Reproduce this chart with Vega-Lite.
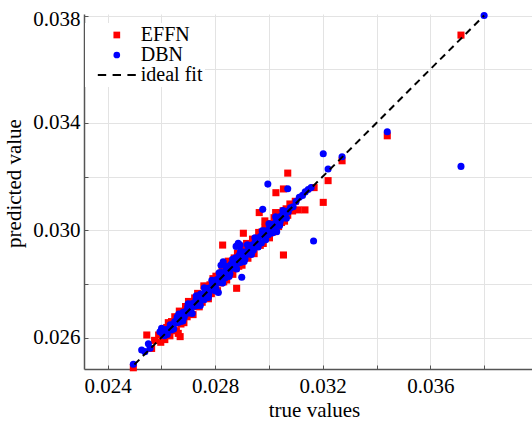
{
  "$schema": "https://vega.github.io/schema/vega-lite/v6.json",
  "width": 448,
  "height": 355,
  "autosize": {"type": "none"},
  "padding": {"left": 84, "top": 14, "right": 0, "bottom": 52},
  "background": "white",
  "config": {
    "view": {"stroke": null},
    "font": "Liberation Serif",
    "style": {"guide-label": {"font": "Liberation Serif", "fontSize": 21, "fill": "black"}, "guide-title": {"font": "Liberation Serif"}},
    "axis": {
      "labelFont": "Liberation Serif", "labelFontSize": 21, "labelColor": "black",
      "titleFont": "Liberation Serif", "titleFontSize": 21, "titleFontWeight": "normal", "titleColor": "black",
      "domainColor": "#555555", "domainWidth": 1.5,
      "tickColor": "#555555", "tickSize": -4, "tickWidth": 1,
      "gridColor": "#e3e3e3", "gridWidth": 1
    },
    "legend": {"labelFont": "Liberation Serif"}
  },
  "layer": [
    {
      "data": {"values": [
        {"model":"EFFN","truth":0.02496,"pred":0.02488},
        {"model":"EFFN","truth":0.02546,"pred":0.0261},
        {"model":"EFFN","truth":0.02564,"pred":0.0256},
        {"model":"EFFN","truth":0.02575,"pred":0.0259},
        {"model":"EFFN","truth":0.02663,"pred":0.02616},
        {"model":"EFFN","truth":0.0267,"pred":0.02604},
        {"model":"EFFN","truth":0.0259,"pred":0.0261},
        {"model":"EFFN","truth":0.02598,"pred":0.02583},
        {"model":"EFFN","truth":0.02606,"pred":0.02631},
        {"model":"EFFN","truth":0.02613,"pred":0.02593},
        {"model":"EFFN","truth":0.0262,"pred":0.02638},
        {"model":"EFFN","truth":0.02626,"pred":0.02656},
        {"model":"EFFN","truth":0.02632,"pred":0.02607},
        {"model":"EFFN","truth":0.02638,"pred":0.0266},
        {"model":"EFFN","truth":0.02644,"pred":0.02632},
        {"model":"EFFN","truth":0.0265,"pred":0.02678},
        {"model":"EFFN","truth":0.02656,"pred":0.02626},
        {"model":"EFFN","truth":0.02662,"pred":0.02677},
        {"model":"EFFN","truth":0.02667,"pred":0.02699},
        {"model":"EFFN","truth":0.02673,"pred":0.02651},
        {"model":"EFFN","truth":0.02679,"pred":0.02689},
        {"model":"EFFN","truth":0.02684,"pred":0.02656},
        {"model":"EFFN","truth":0.0269,"pred":0.02716},
        {"model":"EFFN","truth":0.02696,"pred":0.02678},
        {"model":"EFFN","truth":0.02701,"pred":0.02735},
        {"model":"EFFN","truth":0.02707,"pred":0.02697},
        {"model":"EFFN","truth":0.02713,"pred":0.02733},
        {"model":"EFFN","truth":0.02718,"pred":0.02686},
        {"model":"EFFN","truth":0.02724,"pred":0.02748},
        {"model":"EFFN","truth":0.0273,"pred":0.02716},
        {"model":"EFFN","truth":0.02735,"pred":0.02765},
        {"model":"EFFN","truth":0.02741,"pred":0.02715},
        {"model":"EFFN","truth":0.02747,"pred":0.02759},
        {"model":"EFFN","truth":0.02752,"pred":0.02732},
        {"model":"EFFN","truth":0.02758,"pred":0.02793},
        {"model":"EFFN","truth":0.02764,"pred":0.02756},
        {"model":"EFFN","truth":0.02769,"pred":0.02791},
        {"model":"EFFN","truth":0.02775,"pred":0.02745},
        {"model":"EFFN","truth":0.02781,"pred":0.02797},
        {"model":"EFFN","truth":0.02786,"pred":0.02764},
        {"model":"EFFN","truth":0.02792,"pred":0.0282},
        {"model":"EFFN","truth":0.02798,"pred":0.02786},
        {"model":"EFFN","truth":0.02803,"pred":0.02829},
        {"model":"EFFN","truth":0.02809,"pred":0.02775},
        {"model":"EFFN","truth":0.02815,"pred":0.02833},
        {"model":"EFFN","truth":0.0282,"pred":0.02804},
        {"model":"EFFN","truth":0.02826,"pred":0.02856},
        {"model":"EFFN","truth":0.02832,"pred":0.02808},
        {"model":"EFFN","truth":0.02837,"pred":0.02849},
        {"model":"EFFN","truth":0.02843,"pred":0.02815},
        {"model":"EFFN","truth":0.02849,"pred":0.02885},
        {"model":"EFFN","truth":0.02854,"pred":0.0284},
        {"model":"EFFN","truth":0.0286,"pred":0.0288},
        {"model":"EFFN","truth":0.02866,"pred":0.02836},
        {"model":"EFFN","truth":0.02871,"pred":0.02897},
        {"model":"EFFN","truth":0.02877,"pred":0.02859},
        {"model":"EFFN","truth":0.02883,"pred":0.02915},
        {"model":"EFFN","truth":0.02888,"pred":0.02866},
        {"model":"EFFN","truth":0.02894,"pred":0.02908},
        {"model":"EFFN","truth":0.029,"pred":0.0287},
        {"model":"EFFN","truth":0.02905,"pred":0.02929},
        {"model":"EFFN","truth":0.02911,"pred":0.02899},
        {"model":"EFFN","truth":0.02917,"pred":0.02951},
        {"model":"EFFN","truth":0.02922,"pred":0.02896},
        {"model":"EFFN","truth":0.02928,"pred":0.02946},
        {"model":"EFFN","truth":0.02934,"pred":0.02914},
        {"model":"EFFN","truth":0.02939,"pred":0.02967},
        {"model":"EFFN","truth":0.02945,"pred":0.02913},
        {"model":"EFFN","truth":0.02951,"pred":0.02967},
        {"model":"EFFN","truth":0.02956,"pred":0.02942},
        {"model":"EFFN","truth":0.02962,"pred":0.02992},
        {"model":"EFFN","truth":0.02968,"pred":0.02944},
        {"model":"EFFN","truth":0.02973,"pred":0.02993},
        {"model":"EFFN","truth":0.02979,"pred":0.02951},
        {"model":"EFFN","truth":0.02985,"pred":0.03011},
        {"model":"EFFN","truth":0.0299,"pred":0.02974},
        {"model":"EFFN","truth":0.02996,"pred":0.03018},
        {"model":"EFFN","truth":0.03002,"pred":0.02972},
        {"model":"EFFN","truth":0.03007,"pred":0.03025},
        {"model":"EFFN","truth":0.03013,"pred":0.02993},
        {"model":"EFFN","truth":0.03019,"pred":0.03047},
        {"model":"EFFN","truth":0.03024,"pred":0.02998},
        {"model":"EFFN","truth":0.0303,"pred":0.03044},
        {"model":"EFFN","truth":0.03036,"pred":0.03014},
        {"model":"EFFN","truth":0.03041,"pred":0.03065},
        {"model":"EFFN","truth":0.03047,"pred":0.03029},
        {"model":"EFFN","truth":0.03053,"pred":0.03073},
        {"model":"EFFN","truth":0.03058,"pred":0.03034},
        {"model":"EFFN","truth":0.03064,"pred":0.0308},
        {"model":"EFFN","truth":0.0307,"pred":0.03056},
        {"model":"EFFN","truth":0.03078,"pred":0.03098},
        {"model":"EFFN","truth":0.03088,"pred":0.03072},
        {"model":"EFFN","truth":0.03098,"pred":0.03108},
        {"model":"EFFN","truth":0.02828,"pred":0.02945},
        {"model":"EFFN","truth":0.0288,"pred":0.02784},
        {"model":"EFFN","truth":0.02905,"pred":0.02989},
        {"model":"EFFN","truth":0.03054,"pred":0.02908},
        {"model":"EFFN","truth":0.03054,"pred":0.03154},
        {"model":"EFFN","truth":0.03026,"pred":0.0314},
        {"model":"EFFN","truth":0.0307,"pred":0.03213},
        {"model":"EFFN","truth":0.03168,"pred":0.03159},
        {"model":"EFFN","truth":0.03202,"pred":0.03104},
        {"model":"EFFN","truth":0.0322,"pred":0.03185},
        {"model":"EFFN","truth":0.03272,"pred":0.03259},
        {"model":"EFFN","truth":0.03134,"pred":0.03076},
        {"model":"EFFN","truth":0.03109,"pred":0.03076},
        {"model":"EFFN","truth":0.03025,"pred":0.03066},
        {"model":"EFFN","truth":0.02964,"pred":0.03066},
        {"model":"EFFN","truth":0.02985,"pred":0.03035},
        {"model":"EFFN","truth":0.0344,"pred":0.03352},
        {"model":"EFFN","truth":0.03714,"pred":0.03727},
        {"model":"DBN","truth":0.02605,"pred":0.02613},
        {"model":"DBN","truth":0.02612,"pred":0.02607},
        {"model":"DBN","truth":0.02618,"pred":0.0263},
        {"model":"DBN","truth":0.02622,"pred":0.02612},
        {"model":"DBN","truth":0.02628,"pred":0.02631},
        {"model":"DBN","truth":0.02633,"pred":0.02648},
        {"model":"DBN","truth":0.02637,"pred":0.02629},
        {"model":"DBN","truth":0.02641,"pred":0.02647},
        {"model":"DBN","truth":0.02646,"pred":0.02632},
        {"model":"DBN","truth":0.0265,"pred":0.0266},
        {"model":"DBN","truth":0.02655,"pred":0.02655},
        {"model":"DBN","truth":0.02659,"pred":0.02677},
        {"model":"DBN","truth":0.02663,"pred":0.02657},
        {"model":"DBN","truth":0.02668,"pred":0.02677},
        {"model":"DBN","truth":0.02672,"pred":0.0266},
        {"model":"DBN","truth":0.02676,"pred":0.0268},
        {"model":"DBN","truth":0.02681,"pred":0.02695},
        {"model":"DBN","truth":0.02685,"pred":0.02676},
        {"model":"DBN","truth":0.0269,"pred":0.02697},
        {"model":"DBN","truth":0.02694,"pred":0.02691},
        {"model":"DBN","truth":0.02698,"pred":0.02714},
        {"model":"DBN","truth":0.02703,"pred":0.02692},
        {"model":"DBN","truth":0.02707,"pred":0.02712},
        {"model":"DBN","truth":0.02711,"pred":0.02695},
        {"model":"DBN","truth":0.02716,"pred":0.02727},
        {"model":"DBN","truth":0.0272,"pred":0.02722},
        {"model":"DBN","truth":0.02724,"pred":0.02717},
        {"model":"DBN","truth":0.02729,"pred":0.02742},
        {"model":"DBN","truth":0.02733,"pred":0.0272},
        {"model":"DBN","truth":0.02737,"pred":0.02743},
        {"model":"DBN","truth":0.02742,"pred":0.02738},
        {"model":"DBN","truth":0.02746,"pred":0.02763},
        {"model":"DBN","truth":0.0275,"pred":0.0274},
        {"model":"DBN","truth":0.02755,"pred":0.02758},
        {"model":"DBN","truth":0.02759,"pred":0.02741},
        {"model":"DBN","truth":0.02763,"pred":0.02772},
        {"model":"DBN","truth":0.02768,"pred":0.02766},
        {"model":"DBN","truth":0.02772,"pred":0.02784},
        {"model":"DBN","truth":0.02776,"pred":0.02762},
        {"model":"DBN","truth":0.02781,"pred":0.02786},
        {"model":"DBN","truth":0.02785,"pred":0.02779},
        {"model":"DBN","truth":0.0279,"pred":0.02805},
        {"model":"DBN","truth":0.02794,"pred":0.02785},
        {"model":"DBN","truth":0.02798,"pred":0.02799},
        {"model":"DBN","truth":0.02803,"pred":0.02783},
        {"model":"DBN","truth":0.02807,"pred":0.02817},
        {"model":"DBN","truth":0.02811,"pred":0.02806},
        {"model":"DBN","truth":0.02816,"pred":0.02824},
        {"model":"DBN","truth":0.0282,"pred":0.02808},
        {"model":"DBN","truth":0.02824,"pred":0.02843},
        {"model":"DBN","truth":0.02829,"pred":0.02826},
        {"model":"DBN","truth":0.02833,"pred":0.02839},
        {"model":"DBN","truth":0.02837,"pred":0.02822},
        {"model":"DBN","truth":0.02842,"pred":0.02853},
        {"model":"DBN","truth":0.02846,"pred":0.02839},
        {"model":"DBN","truth":0.0285,"pred":0.02852},
        {"model":"DBN","truth":0.02855,"pred":0.02838},
        {"model":"DBN","truth":0.02859,"pred":0.02873},
        {"model":"DBN","truth":0.02863,"pred":0.02859},
        {"model":"DBN","truth":0.02868,"pred":0.02877},
        {"model":"DBN","truth":0.02872,"pred":0.02861},
        {"model":"DBN","truth":0.02876,"pred":0.02898},
        {"model":"DBN","truth":0.02881,"pred":0.02886},
        {"model":"DBN","truth":0.02885,"pred":0.02877},
        {"model":"DBN","truth":0.0289,"pred":0.02908},
        {"model":"DBN","truth":0.02894,"pred":0.0288},
        {"model":"DBN","truth":0.02898,"pred":0.02905},
        {"model":"DBN","truth":0.02903,"pred":0.02897},
        {"model":"DBN","truth":0.02907,"pred":0.02919},
        {"model":"DBN","truth":0.02911,"pred":0.02893},
        {"model":"DBN","truth":0.02916,"pred":0.02919},
        {"model":"DBN","truth":0.0292,"pred":0.02911},
        {"model":"DBN","truth":0.02924,"pred":0.02939},
        {"model":"DBN","truth":0.02929,"pred":0.02927},
        {"model":"DBN","truth":0.02933,"pred":0.0292},
        {"model":"DBN","truth":0.02937,"pred":0.02945},
        {"model":"DBN","truth":0.02942,"pred":0.02926},
        {"model":"DBN","truth":0.02946,"pred":0.0295},
        {"model":"DBN","truth":0.0295,"pred":0.02961},
        {"model":"DBN","truth":0.02955,"pred":0.02948},
        {"model":"DBN","truth":0.02959,"pred":0.0296},
        {"model":"DBN","truth":0.02963,"pred":0.02951},
        {"model":"DBN","truth":0.02968,"pred":0.02977},
        {"model":"DBN","truth":0.02972,"pred":0.02953},
        {"model":"DBN","truth":0.02976,"pred":0.02982},
        {"model":"DBN","truth":0.02981,"pred":0.02977},
        {"model":"DBN","truth":0.02985,"pred":0.02998},
        {"model":"DBN","truth":0.0299,"pred":0.0298},
        {"model":"DBN","truth":0.02994,"pred":0.02996},
        {"model":"DBN","truth":0.02998,"pred":0.02983},
        {"model":"DBN","truth":0.03003,"pred":0.0301},
        {"model":"DBN","truth":0.03007,"pred":0.02999},
        {"model":"DBN","truth":0.03011,"pred":0.03021},
        {"model":"DBN","truth":0.03016,"pred":0.03003},
        {"model":"DBN","truth":0.0302,"pred":0.03024},
        {"model":"DBN","truth":0.03024,"pred":0.03018},
        {"model":"DBN","truth":0.03029,"pred":0.03041},
        {"model":"DBN","truth":0.03033,"pred":0.03022},
        {"model":"DBN","truth":0.03037,"pred":0.0304},
        {"model":"DBN","truth":0.03042,"pred":0.03033},
        {"model":"DBN","truth":0.03046,"pred":0.03054},
        {"model":"DBN","truth":0.0305,"pred":0.03046},
        {"model":"DBN","truth":0.03055,"pred":0.03061},
        {"model":"DBN","truth":0.0306,"pred":0.03053},
        {"model":"DBN","truth":0.03066,"pred":0.03071},
        {"model":"DBN","truth":0.03072,"pred":0.03069},
        {"model":"DBN","truth":0.0308,"pred":0.03084},
        {"model":"DBN","truth":0.0309,"pred":0.03088},
        {"model":"DBN","truth":0.03101,"pred":0.03107},
        {"model":"DBN","truth":0.03113,"pred":0.03123},
        {"model":"DBN","truth":0.03125,"pred":0.0313},
        {"model":"DBN","truth":0.03135,"pred":0.03143},
        {"model":"DBN","truth":0.03146,"pred":0.03152},
        {"model":"DBN","truth":0.03157,"pred":0.03159},
        {"model":"DBN","truth":0.02665,"pred":0.02688},
        {"model":"DBN","truth":0.0268,"pred":0.02662},
        {"model":"DBN","truth":0.027,"pred":0.02726},
        {"model":"DBN","truth":0.02715,"pred":0.0269},
        {"model":"DBN","truth":0.0273,"pred":0.02756},
        {"model":"DBN","truth":0.02745,"pred":0.0272},
        {"model":"DBN","truth":0.0276,"pred":0.02786},
        {"model":"DBN","truth":0.02775,"pred":0.0275},
        {"model":"DBN","truth":0.02788,"pred":0.02814},
        {"model":"DBN","truth":0.028,"pred":0.02775},
        {"model":"DBN","truth":0.02815,"pred":0.02842},
        {"model":"DBN","truth":0.02828,"pred":0.02804},
        {"model":"DBN","truth":0.0284,"pred":0.02866},
        {"model":"DBN","truth":0.02852,"pred":0.02828},
        {"model":"DBN","truth":0.02865,"pred":0.02892},
        {"model":"DBN","truth":0.0288,"pred":0.02856},
        {"model":"DBN","truth":0.02895,"pred":0.02922},
        {"model":"DBN","truth":0.02908,"pred":0.02884},
        {"model":"DBN","truth":0.0292,"pred":0.02946},
        {"model":"DBN","truth":0.02935,"pred":0.0291},
        {"model":"DBN","truth":0.02948,"pred":0.02972},
        {"model":"DBN","truth":0.0296,"pred":0.02938},
        {"model":"DBN","truth":0.02975,"pred":0.02998},
        {"model":"DBN","truth":0.02988,"pred":0.02965},
        {"model":"DBN","truth":0.03,"pred":0.03024},
        {"model":"DBN","truth":0.03012,"pred":0.0299},
        {"model":"DBN","truth":0.03025,"pred":0.0305},
        {"model":"DBN","truth":0.0304,"pred":0.03018},
        {"model":"DBN","truth":0.03052,"pred":0.03074},
        {"model":"DBN","truth":0.03065,"pred":0.03045},
        {"model":"DBN","truth":0.02496,"pred":0.02501},
        {"model":"DBN","truth":0.02527,"pred":0.02554},
        {"model":"DBN","truth":0.02539,"pred":0.02548},
        {"model":"DBN","truth":0.02552,"pred":0.02577},
        {"model":"DBN","truth":0.02558,"pred":0.02561},
        {"model":"DBN","truth":0.02595,"pred":0.02622},
        {"model":"DBN","truth":0.02601,"pred":0.02635},
        {"model":"DBN","truth":0.02886,"pred":0.02952},
        {"model":"DBN","truth":0.02878,"pred":0.0294},
        {"model":"DBN","truth":0.02893,"pred":0.02945},
        {"model":"DBN","truth":0.0283,"pred":0.02883},
        {"model":"DBN","truth":0.02822,"pred":0.0287},
        {"model":"DBN","truth":0.02812,"pred":0.02768},
        {"model":"DBN","truth":0.02899,"pred":0.02825},
        {"model":"DBN","truth":0.02977,"pred":0.03078},
        {"model":"DBN","truth":0.02996,"pred":0.03172},
        {"model":"DBN","truth":0.0307,"pred":0.03155},
        {"model":"DBN","truth":0.03166,"pred":0.0296},
        {"model":"DBN","truth":0.03029,"pred":0.02995},
        {"model":"DBN","truth":0.03202,"pred":0.03285},
        {"model":"DBN","truth":0.03272,"pred":0.03274},
        {"model":"DBN","truth":0.0322,"pred":0.03228},
        {"model":"DBN","truth":0.0344,"pred":0.03367},
        {"model":"DBN","truth":0.03714,"pred":0.03238},
        {"model":"DBN","truth":0.038,"pred":0.038}
      ]},
      "mark": {"type": "point", "filled": true, "opacity": 1, "size": 50},
      "encoding": {
        "x": {
          "field": "truth", "type": "quantitative",
          "scale": {"domain": [0.023126, 0.03978], "nice": false, "zero": false},
          "axis": {
            "title": "true values",
            "values": [0.024, 0.026, 0.028, 0.03, 0.032, 0.034, 0.036, 0.038],
            "labelExpr": "(round(datum.value*1000) % 4 == 0) ? format(datum.value, '.3f') : ''",
            "labelFont": "Liberation Serif", "labelFontSize": 21,
            "labelBaseline": "alphabetic",
            "labelPadding": 27.5,
            "labelFlush": false,
            "labelOverlap": false,
            "titleX": 230, "titleY": 47, "titleBaseline": "alphabetic"
          }
        },
        "y": {
          "field": "pred", "type": "quantitative",
          "scale": {"domain": [0.024834, 0.038056], "nice": false, "zero": false},
          "axis": {
            "title": "predicted value",
            "values": [0.026, 0.028, 0.03, 0.032, 0.034, 0.036, 0.038],
            "labelExpr": "(round(datum.value*1000) % 4 == 2) ? format(datum.value, '.3f') : ''",
            "labelFont": "Liberation Serif", "labelFontSize": 21,
            "labelPadding": 8,
            "labelFlush": false,
            "labelOverlap": false,
            "labelOffset": {"condition": {"test": "datum.value > 0.0375", "value": 4}, "value": 0},
            "titleX": -63.5, "titleY": 169, "titleBaseline": "alphabetic"
          }
        },
        "color": {
          "field": "model", "type": "nominal",
          "scale": {"domain": ["EFFN", "DBN", "ideal fit"], "range": ["#ff0000", "#0000ff", "#000000"]},
          "legend": {
            "title": null, "orient": "none", "legendX": 1, "legendY": 9,
            "fillColor": "white", "padding": 2,
            "labelFont": "Liberation Serif", "labelFontSize": 20, "labelColor": "black",
            "symbolSize": 45, "symbolStrokeWidth": 0, "symbolOpacity": 1,
            "rowPadding": 0, "symbolOffset": 19.8, "labelOffset": 14,
            "encode": {"symbols": {"update": {
              "size": {"signal": "datum.value === 'ideal fit' ? 1600 : 45"},
              "stroke": {"signal": "datum.value === 'ideal fit' ? 'black' : 'transparent'"},
              "strokeWidth": {"value": 2}
            }}}
          }
        },
        "shape": {
          "field": "model", "type": "nominal",
          "scale": {"domain": ["EFFN", "DBN", "ideal fit"], "range": ["square", "circle", "M-0.95,0H-0.53M-0.21,0H0.21M0.53,0H0.95"]},
          "legend": {
            "title": null, "orient": "none", "legendX": 1, "legendY": 9,
            "fillColor": "white", "padding": 2,
            "labelFont": "Liberation Serif", "labelFontSize": 20, "labelColor": "black",
            "symbolSize": 45, "symbolStrokeWidth": 0, "symbolOpacity": 1,
            "rowPadding": 0, "symbolOffset": 19.8, "labelOffset": 14,
            "encode": {"symbols": {"update": {
              "size": {"signal": "datum.value === 'ideal fit' ? 1600 : 45"},
              "stroke": {"signal": "datum.value === 'ideal fit' ? 'black' : 'transparent'"},
              "strokeWidth": {"value": 2}
            }}}
          }
        }
      }
    },
    {
      "data": {"values": [
        {"truth": 0.025, "pred": 0.025},
        {"truth": 0.038, "pred": 0.038}
      ]},
      "mark": {"type": "line", "color": "black", "strokeWidth": 2, "strokeDash": [7, 5]},
      "encoding": {
        "x": {"field": "truth", "type": "quantitative"},
        "y": {"field": "pred", "type": "quantitative"}
      }
    }
  ]
}
